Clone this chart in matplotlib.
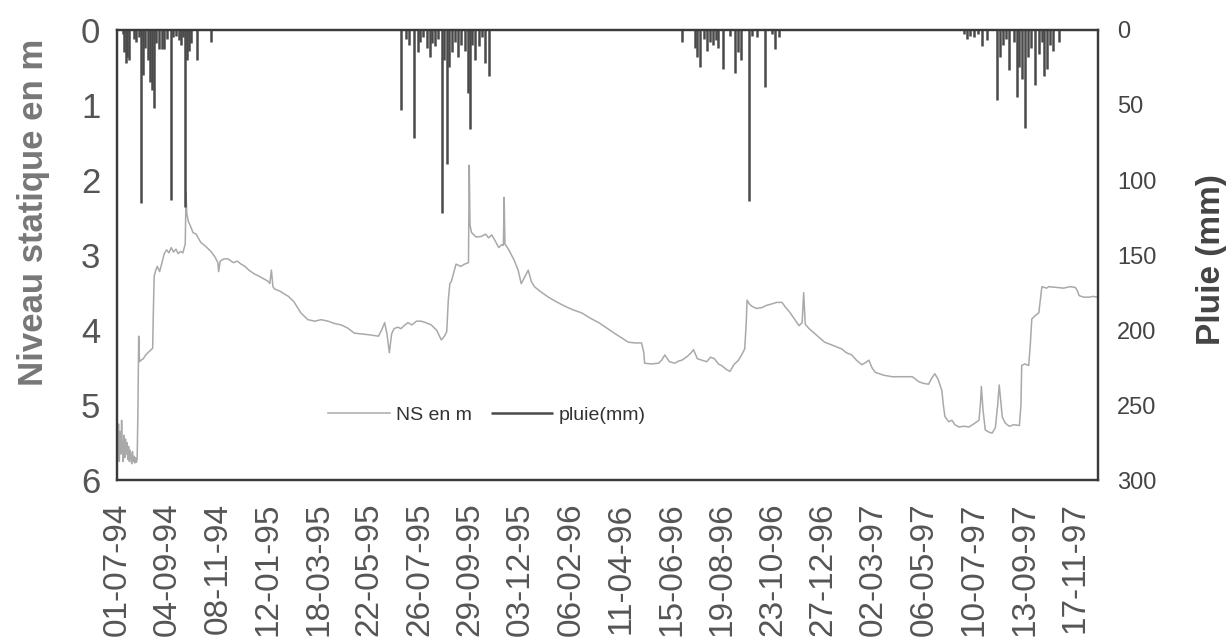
import pandas as pd
import matplotlib
matplotlib.use("Agg")
import matplotlib.pyplot as plt

plt.rcParams["font.family"] = ["Liberation Sans", "DejaVu Sans"]

# Origin of the record
debut = pd.Timestamp("1994-07-01")

# Static water level (m below ground), by day number since the origin
ns_jour = [
    0, 1, 2, 3, 4, 5, 6, 7, 8, 9, 10, 11, 12, 13, 14, 15, 16, 17, 18, 19, 20,
    21, 22, 23, 24, 25, 26, 27, 28, 29, 31, 34, 37, 40, 43, 46, 47, 48, 50, 52,
    55, 58, 61, 64, 67, 70, 73, 76, 79, 82, 85, 88, 89, 90, 92, 95, 98, 102,
    108, 114, 121, 126, 130, 131, 133, 138, 143, 150, 155, 160, 165, 170, 177,
    183, 190, 195, 197, 199, 201, 203, 210, 216, 221, 228, 237, 246, 255, 263,
    272, 280, 289, 297, 306, 315, 324, 331, 337, 341, 345, 348, 351, 354, 357,
    362, 366, 370, 375, 380, 386, 392, 398, 405, 412, 418, 422, 425, 427, 429,
    431, 437, 443, 448, 453, 454, 455, 457, 463, 470, 475, 479, 483, 488, 492,
    496, 498, 499, 500, 505, 512, 517, 521, 525, 530, 534, 538, 545, 556, 566,
    577, 588, 599, 610, 621, 631, 641, 650, 659, 668, 676, 679, 680, 689, 698,
    702, 706, 712, 719, 724, 728, 735, 740, 743, 748, 754, 760, 765, 770, 775,
    779, 785, 790, 795, 801, 805, 809, 811, 812, 815, 818, 824, 831, 837, 844,
    850, 857, 862, 867, 873, 879, 883, 885, 887, 892, 902, 912, 922, 934, 940,
    947, 953, 960, 965, 969, 973, 977, 988, 999, 1012, 1025, 1030, 1034, 1040,
    1046, 1050, 1054, 1058, 1063, 1065, 1067, 1072, 1076, 1080, 1085, 1092,
    1098, 1104, 1111, 1113, 1114, 1116, 1119, 1124, 1128, 1132, 1135, 1137,
    1139, 1141, 1145, 1150, 1156, 1163, 1165, 1166, 1170, 1175, 1177, 1179,
    1184, 1188, 1190, 1192, 1198, 1201, 1210, 1220, 1228, 1235, 1238, 1240,
    1246, 1253, 1258, 1263,
]
ns_m = [
    5.20, 5.70, 5.25, 5.75, 5.35, 5.65, 5.20, 5.60, 5.75, 5.40, 5.70, 5.45,
    5.65, 5.50, 5.72, 5.55, 5.75, 5.60, 5.70, 5.78, 5.62, 5.75, 5.68, 5.77,
    5.70, 5.76, 5.72, 5.10, 4.08, 4.42, 4.40, 4.38, 4.33, 4.30, 4.27, 4.24,
    3.70, 3.28, 3.20, 3.15, 3.22, 3.10, 2.98, 2.93, 2.97, 2.90, 2.96, 2.92,
    2.98, 2.95, 2.97, 2.85, 2.17, 2.45, 2.55, 2.62, 2.70, 2.72, 2.83, 2.88,
    2.95, 3.02, 3.10, 3.22, 3.08, 3.05, 3.05, 3.10, 3.08, 3.12, 3.15, 3.20,
    3.25, 3.28, 3.32, 3.35, 3.38, 3.20, 3.42, 3.45, 3.48, 3.52, 3.55, 3.62,
    3.77, 3.86, 3.88, 3.86, 3.88, 3.91, 3.93, 3.97, 4.04, 4.05, 4.06, 4.07,
    4.08, 4.00, 3.90, 4.05, 4.30, 4.05, 3.98, 3.96, 3.98, 3.94, 3.90, 3.93,
    3.88, 3.88, 3.90, 3.93, 4.00, 4.13, 4.08, 4.02, 3.60, 3.38, 3.35, 3.12,
    3.15, 3.12, 3.10, 1.80, 2.60, 2.70, 2.76, 2.75, 2.72, 2.77, 2.73, 2.82,
    2.90, 2.86, 2.87, 2.23, 2.85, 2.93, 3.07, 3.20, 3.38, 3.30, 3.20, 3.35,
    3.42, 3.48, 3.56, 3.62, 3.68, 3.73, 3.77, 3.84, 3.90, 3.97, 4.04, 4.10,
    4.16, 4.17, 4.17, 4.30, 4.44, 4.45, 4.44, 4.40, 4.33, 4.42, 4.44, 4.41,
    4.40, 4.35, 4.30, 4.26, 4.38, 4.40, 4.42, 4.36, 4.38, 4.45, 4.47, 4.52,
    4.55, 4.46, 4.40, 4.33, 4.25, 3.90, 3.60, 3.65, 3.68, 3.71, 3.70, 3.67,
    3.65, 3.63, 3.63, 3.70, 3.76, 3.85, 3.94, 3.90, 3.50, 3.92, 3.98, 4.07,
    4.16, 4.20, 4.25, 4.30, 4.33, 4.40, 4.46, 4.43, 4.40, 4.50, 4.56, 4.60,
    4.62, 4.62, 4.62, 4.66, 4.69, 4.71, 4.72, 4.64, 4.58, 4.65, 4.80, 5.00,
    5.15, 5.22, 5.20, 5.26, 5.29, 5.28, 5.29, 5.25, 5.20, 4.95, 4.75, 5.05,
    5.33, 5.36, 5.37, 5.30, 5.00, 4.73, 4.95, 5.16, 5.24, 5.28, 5.26, 5.27,
    5.00, 4.47, 4.45, 4.47, 4.20, 3.85, 3.80, 3.77, 3.60, 3.42, 3.44, 3.42,
    3.43, 3.44, 3.42, 3.43, 3.48, 3.54, 3.56, 3.56, 3.55, 3.56,
]

# Daily rainfall events (mm), by day number since the origin
pluie_jour = [
    8, 9, 12, 13, 15, 22, 25, 28, 31, 34, 36, 40, 43, 45, 48, 50, 54, 58, 61,
    65, 70, 72, 76, 80, 83, 85, 88, 90, 93, 95, 103, 121,
    366, 372, 377, 383, 388, 391, 395, 399, 403, 406, 410, 414, 419, 422, 425,
    428, 432, 436, 440, 444, 448, 453, 455, 458, 461, 466, 470, 474, 480,
    728, 745, 747, 751, 756, 760, 764, 768, 772, 775, 781, 790, 796, 800, 804,
    814, 819, 825, 835, 844, 848, 853,
    1092, 1095, 1099, 1105, 1110, 1115, 1121, 1134, 1138, 1142, 1146, 1150,
    1156, 1160, 1163, 1166, 1170, 1174, 1178, 1183, 1188, 1192, 1195, 1199,
    1203, 1206, 1214,
]
pluie_mm = [
    3, 15, 22, 18, 20, 6, 8, 5, 115, 30, 12, 20, 35, 40, 52, 9, 13, 13, 13,
    6, 113, 5, 4, 7, 10, 5, 118, 20, 14, 9, 20, 8,
    53, 6, 10, 72, 15, 8, 5, 12, 18, 9, 11, 6, 122, 20, 89,
    25, 15, 8, 18, 10, 14, 42, 66, 10, 20, 11, 5, 22, 31,
    8, 12, 18, 25, 6, 14, 8, 10, 7, 12, 26, 4, 29, 15, 20,
    114, 4, 5, 38, 3, 13, 5,
    3, 6, 4, 5, 3, 11, 7, 47, 18, 10, 6, 27,
    8, 45, 25, 33, 65, 18, 12, 37, 16, 8, 31, 26,
    10, 14, 8,
]

# Date labels along the horizontal axis
date_labels = [
    "01-07-94", "04-09-94", "08-11-94", "12-01-95", "18-03-95", "22-05-95",
    "26-07-95", "29-09-95", "03-12-95", "06-02-96", "11-04-96", "15-06-96",
    "19-08-96", "23-10-96", "27-12-96", "02-03-97", "06-05-97", "10-07-97",
    "13-09-97", "17-11-97",
]
ns_ticks = [0, 1, 2, 3, 4, 5, 6]
pluie_ticks = [0, 50, 100, 150, 200, 250, 300]

ns_dates = debut + pd.to_timedelta(ns_jour, unit="D")
pluie_dates = debut + pd.to_timedelta(pluie_jour, unit="D")
tick_dates = pd.to_datetime(date_labels, format="%d-%m-%y")

fig = plt.figure(figsize=(12.26, 6.37), dpi=100)
ax = fig.add_axes([0.0954, 0.246, 0.80, 0.707])

ligne_ns, = ax.plot(ns_dates, ns_m, color="#a9a9a9", lw=1.1)
ax.set_ylim(6, 0)
ax.set_xlim(debut, debut + pd.Timedelta(days=1264))
ax.set_yticks(ns_ticks)
ax.set_yticklabels([str(v) for v in ns_ticks])
ax.tick_params(axis="y", length=0, pad=12, labelsize=25, labelcolor="#555555")
ax.set_xticks(tick_dates)
ax.set_xticklabels(date_labels, rotation=90)
ax.tick_params(axis="x", length=0, pad=16, labelsize=24, labelcolor="#555555")
ax.set_ylabel("Niveau statique en m", fontsize=25, fontweight="bold",
              color="#777777")
ax.yaxis.set_label_coords(-0.068, 0.595)

ax2 = ax.twinx()
barres = ax2.vlines(pluie_dates, 0, pluie_mm, color="#4a4a4a", lw=1.8)
ax2.set_ylim(300, 0)
ax2.set_yticks(pluie_ticks)
ax2.set_yticklabels([str(v) for v in pluie_ticks])
ax2.tick_params(axis="y", length=0, pad=14, labelsize=17, labelcolor="#444444")
ax2.set_ylabel("Pluie (mm)", fontsize=24, fontweight="bold", color="#444444")
ax2.yaxis.set_label_coords(1.1, 0.49)

for a in (ax, ax2):
    for s in a.spines.values():
        s.set_linewidth(1.6)
        s.set_color("#3a3a3a")

ax2.legend([ligne_ns, barres], ["NS en m", "pluie(mm)"], loc="center",
           bbox_to_anchor=(0.377, 0.145), ncol=2, frameon=False, fontsize=14,
           handlelength=3.2, handletextpad=0.3, columnspacing=1.0,
           labelcolor="#333333")

fig.savefig("out.png", dpi=100, facecolor="white")
